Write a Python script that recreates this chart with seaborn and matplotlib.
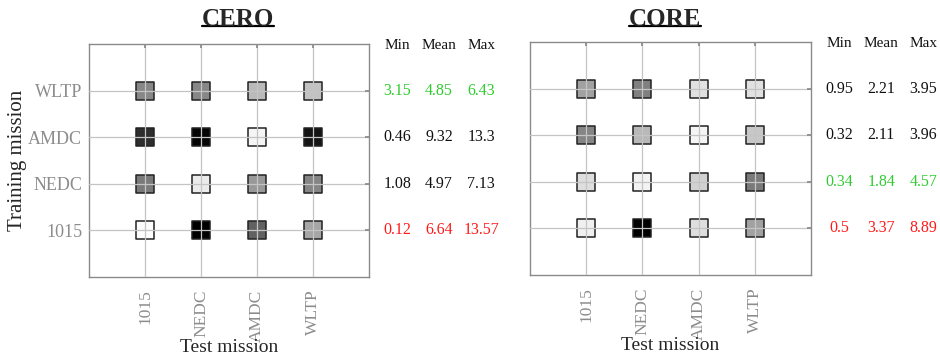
"""
Grey-scale mission matrices, CERO vs CORE
"""

import pandas as pd
import matplotlib.pyplot as plt
import seaborn as sns
from matplotlib.lines import Line2D

missions = ["1015", "NEDC", "AMDC", "WLTP"]

# grey level of each square (0 = black, 1 = white); rows = training mission, cols = test mission
cero_gray = [
    [0.99, 0.00, 0.38, 0.65],  # 1015
    [0.48, 0.92, 0.60, 0.52],  # NEDC
    [0.18, 0.02, 0.96, 0.08],  # AMDC
    [0.53, 0.53, 0.73, 0.76],  # WLTP
]
core_gray = [
    [0.94, 0.00, 0.87, 0.63],
    [0.87, 0.95, 0.82, 0.48],
    [0.52, 0.72, 0.96, 0.78],
    [0.63, 0.50, 0.88, 0.88],
]

# error statistics per training mission (1015, NEDC, AMDC, WLTP)
cero_min = [0.12, 1.08, 0.46, 3.15]
cero_mean = [6.64, 4.97, 9.32, 4.85]
cero_max = [13.57, 7.13, 13.3, 6.43]
cero_colors = ["red", "black", "black", "green"]

core_min = [0.5, 0.34, 0.32, 0.95]
core_mean = [3.37, 1.84, 2.11, 2.21]
core_max = [8.89, 4.57, 3.96, 3.95]
core_colors = ["red", "green", "black", "black"]

COLORS = {"red": "#ff1a1a", "green": "#2fcc2f", "black": "#111111"}


def to_frame(gray):
    rows = []
    for i, train in enumerate(missions):
        for j, test in enumerate(missions):
            rows.append({"test": test, "train": train, "gray": gray[i][j]})
    return pd.DataFrame(rows)


def draw_panel(ax, gray, mins, means, maxs, colors, show_y=True):
    df = to_frame(gray)
    sns.scatterplot(data=df, x="test", y="train", hue="gray", palette="gray",
                    hue_norm=(0, 1), marker="s", s=165, edgecolor="#222222",
                    linewidth=1.1, legend=False, ax=ax, zorder=1)
    ax.set_xlim(-1, 4)
    ax.set_ylim(-1, 4)
    ax.set_axisbelow(False)
    ax.grid(True, color="#c4c4c4", linewidth=0.9)
    for sp in ax.spines.values():
        sp.set_color("#8a8a8a")
        sp.set_linewidth(1.0)
    ax.tick_params(direction="in", length=3, color="#8a8a8a",
                   top=True, right=True, labelcolor="#8c8c8c")
    ax.tick_params(axis="x", rotation=90, pad=9, labelsize=12.5)
    ax.tick_params(axis="y", pad=5, labelsize=13, labelleft=show_y)
    ax.set_xlabel("Test mission", fontsize=14)
    ax.set_ylabel("")
    ax.xaxis.set_label_coords(0.5, -0.268)

    for x, head in zip([4.5, 5.25, 6.0], ["Min", "Mean", "Max"]):
        ax.text(x, 3.97, head, ha="center", va="center", fontsize=11,
                color="#111111", clip_on=False)
    for i in range(len(missions)):
        for x, vals in zip([4.5, 5.25, 6.0], [mins, means, maxs]):
            ax.text(x, i, str(vals[i]), ha="center", va="center",
                    fontsize=11.5, color=COLORS[colors[i]], clip_on=False)


def underlined_title(fig, x, y, label):
    t = fig.text(x, y, label, ha="center", va="center", fontsize=18,
                 fontweight="bold")
    fig.canvas.draw()
    bb = t.get_window_extent().transformed(fig.transFigure.inverted())
    yl = bb.y0 + 0.18 * bb.height
    fig.add_artist(Line2D([bb.x0, bb.x1], [yl, yl], color="black",
                          linewidth=1.6, transform=fig.transFigure))


def main():
    sns.set_theme(style="white")
    plt.rcParams["font.family"] = ["Liberation Serif", "DejaVu Serif"]

    fig = plt.figure(figsize=(9.4, 3.59), dpi=100)
    ax1 = fig.add_axes([0.0947, 0.2284, 0.298, 0.649])
    ax2 = fig.add_axes([0.5638, 0.234, 0.299, 0.649])

    draw_panel(ax1, cero_gray, cero_min, cero_mean, cero_max, cero_colors)
    draw_panel(ax2, core_gray, core_min, core_mean, core_max, core_colors,
               show_y=False)

    ax1.set_ylabel("Training mission", fontsize=15)
    ax1.yaxis.set_label_coords(-0.22, 0.5)

    underlined_title(fig, 238 / 940, 1 - 19 / 359, "CERO")
    underlined_title(fig, 665 / 940, 1 - 19 / 359, "CORE")

    fig.savefig("out.png", dpi=100)


if __name__ == "__main__":
    main()
